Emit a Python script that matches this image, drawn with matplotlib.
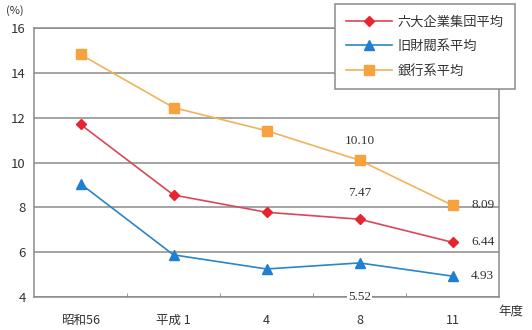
import matplotlib

matplotlib.use("Agg")
import matplotlib.pyplot as plt
import numpy as np

plt.rcParams["font.family"] = ["Noto Sans CJK JP", "DejaVu Sans"]

years = ["昭和56", "平成 1", "4", "8", "11"]
rokudai = [11.7, 8.55, 7.78, 7.47, 6.44]
zaibatsu = [9.05, 5.88, 5.25, 5.52, 4.93]
ginko = [14.82, 12.45, 11.42, 10.10, 8.09]
series_names = ["六大企業集団平均", "旧財閥系平均", "銀行系平均"]

LINE = {"rokudai": "#d9475a", "zaibatsu": "#2a86c6", "ginko": "#f0b35a"}
MARK = {"rokudai": "#e8242f", "zaibatsu": "#1f7fd0", "ginko": "#f7a23c"}
GRID = "#8a8a8a"
TXT = "#333333"

fig = plt.figure(figsize=(5.32, 3.30), dpi=100)
ax = fig.add_axes([34 / 532, 1 - 297 / 330, 465 / 532, 269 / 330])

x = np.arange(len(years)) + 0.5
ax.plot(x, rokudai, color=LINE["rokudai"], lw=1.2, marker="D", ms=5,
        mfc=MARK["rokudai"], mec=MARK["rokudai"], label=series_names[0], zorder=3)
ax.plot(x, zaibatsu, color=LINE["zaibatsu"], lw=1.2, marker="^", ms=7,
        mfc=MARK["zaibatsu"], mec=MARK["zaibatsu"], label=series_names[1], zorder=3)
ax.plot(x, ginko, color=LINE["ginko"], lw=1.2, marker="s", ms=7,
        mfc=MARK["ginko"], mec=MARK["ginko"], label=series_names[2], zorder=3)

ax.set_xlim(0, len(years))
ax.set_ylim(4, 16)
ax.set_yticks(range(4, 17, 2))
ax.yaxis.grid(True, color=GRID, lw=1.1)
ax.set_axisbelow(True)
ax.tick_params(axis="y", length=0, labelsize=9.5, pad=6, colors=TXT)
ax.set_xticks(x)
ax.set_xticklabels(years)
ax.tick_params(axis="x", length=0, labelsize=9, pad=12, colors=TXT)
ax.set_xticks(np.arange(1, len(years)), minor=True)
ax.tick_params(axis="x", which="minor", length=3, direction="in", color=GRID)
for s in ax.spines.values():
    s.set_color(GRID)
    s.set_linewidth(1.1)

serif = dict(family="Liberation Serif", fontsize=9.5, color=TXT)
ax.text(x[3], ginko[3] + 0.6, f"{ginko[3]:.2f}", ha="center", va="bottom", **serif)
ax.text(x[3], rokudai[3] + 0.9, f"{rokudai[3]:.2f}", ha="center", va="bottom", **serif)
ax.text(x[4] + 0.2, ginko[4], f"{ginko[4]:.2f}", ha="left", va="center", **serif)
ax.text(x[4] + 0.2, rokudai[4], f"{rokudai[4]:.2f}", ha="left", va="center", **serif)
ax.text(x[4] + 0.2, zaibatsu[4], f"{zaibatsu[4]:.2f}", ha="left", va="center", **serif)
ax.text(x[3], 4, f"{zaibatsu[3]:.2f}", ha="center", va="center",
        bbox=dict(fc="white", ec="none", pad=1), zorder=5, clip_on=False, **serif)

fig.text(15 / 532, 1 - 11 / 330, "(%)", ha="center", va="center", fontsize=8, color=TXT)
fig.text(511 / 532, 1 - 311 / 330, "年度", ha="center", va="center", fontsize=9, color=TXT)

leg = fig.legend(loc="upper left", bbox_to_anchor=(335 / 532, 1 - 4 / 330),
                 fontsize=9.5, frameon=True, fancybox=False, handlelength=3.5,
                 borderpad=0.85, labelspacing=0.9, handletextpad=0.4,
                 borderaxespad=0)
leg.get_frame().set_edgecolor(GRID)
leg.get_frame().set_linewidth(1.1)
leg.get_frame().set_alpha(1)
for t in leg.get_texts():
    t.set_color(TXT)

fig.savefig("out.png", dpi=100)
